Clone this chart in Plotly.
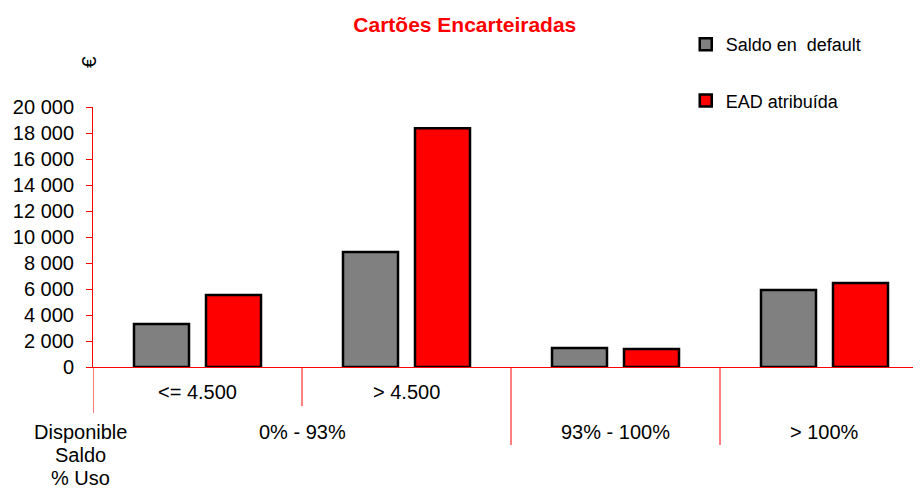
import plotly.graph_objects as go

# chart data
sub_labels = ["<= 4.500", "> 4.500", "", ""]
group_labels = ["0% - 93%", "93% - 100%", "> 100%"]
group_pos = [0.5, 2, 3]
row_labels = ["Disponible", "Saldo", "% Uso"]
saldo_default = [3300, 8850, 1460, 5920]
ead_atribuida = [5540, 18360, 1390, 6460]
x_idx = [0, 1, 2, 3]

FONT = "Liberation Sans, Arial, sans-serif"
RED = "#ff0000"

fig = go.Figure()
fig.add_trace(go.Bar(
    x=x_idx, y=saldo_default, name="Saldo en\u00a0 default",
    marker=dict(color="#808080", line=dict(color="black", width=2.5)),
    legendgroup="a",
))
fig.add_trace(go.Bar(
    x=x_idx, y=ead_atribuida, name="EAD atribuída",
    marker=dict(color=RED, line=dict(color="black", width=2.5)),
    legendgroup="b",
))

# category divider lines below the axis
for xv, depth in [(-0.5, -0.177), (0.5, -0.15), (1.5, -0.3), (2.5, -0.3)]:
    fig.add_shape(type="line", xref="x", yref="paper", x0=xv, x1=xv, y0=0, y1=depth,
                  line=dict(color=RED, width=1))

annotations = []
for xv, lab in zip(x_idx, sub_labels):
    if lab:
        annotations.append(dict(x=xv, y=-0.096, xref="x", yref="paper", text=lab,
                                xanchor="center", yanchor="middle",
                                showarrow=False, font=dict(size=20, color="black")))
for xv, lab in zip(group_pos, group_labels):
    annotations.append(dict(x=xv, y=-0.25, xref="x", yref="paper", text=lab,
                            xanchor="center", yanchor="middle",
                            showarrow=False, font=dict(size=20, color="black")))
for i, lab in enumerate(row_labels):
    annotations.append(dict(x=-0.015, y=-0.25 - i * 0.0885, xref="paper", yref="paper",
                            text=lab, xanchor="center", yanchor="middle",
                            showarrow=False, font=dict(size=20, color="black")))
annotations.append(dict(x=-0.006, y=1.173, xref="paper", yref="paper", text="€",
                        xanchor="center", yanchor="middle",
                        textangle=-90, showarrow=False, font=dict(size=21, color="black")))

fig.update_layout(
    width=921, height=488,
    margin=dict(l=85, r=0, t=99, b=129, autoexpand=False),
    paper_bgcolor="white", plot_bgcolor="white",
    font=dict(family=FONT, size=20, color="black"),
    separators=", ",
    title=dict(text="<b>Cartões Encarteiradas</b>", x=0.496, xref="container", xanchor="center",
               y=0.965, yref="container", yanchor="middle", font=dict(size=21, color=RED)),
    barmode="group", bargap=0.311, bargroupgap=0.236,
    showlegend=True,
    legend=dict(x=0.709, y=1.3115, xanchor="left", yanchor="top",
                font=dict(size=18, color="black"), tracegroupgap=30,
                traceorder="grouped", itemwidth=30, bgcolor="rgba(0,0,0,0)"),
    annotations=annotations,
)
fig.update_xaxes(range=[-0.5, 3.5], showticklabels=False, ticks="", showgrid=False,
                 showline=True, linecolor=RED, linewidth=1, zeroline=False)
fig.update_yaxes(range=[0, 20000], tickvals=list(range(0, 20001, 2000)), tickformat=",d",
                 ticks="outside", ticklen=6, tickcolor=RED, showline=True, linecolor=RED,
                 linewidth=1, showgrid=False, zeroline=False, ticklabelstandoff=8,
                 tickfont=dict(size=20, color="black"))

fig.write_html("out.html")
